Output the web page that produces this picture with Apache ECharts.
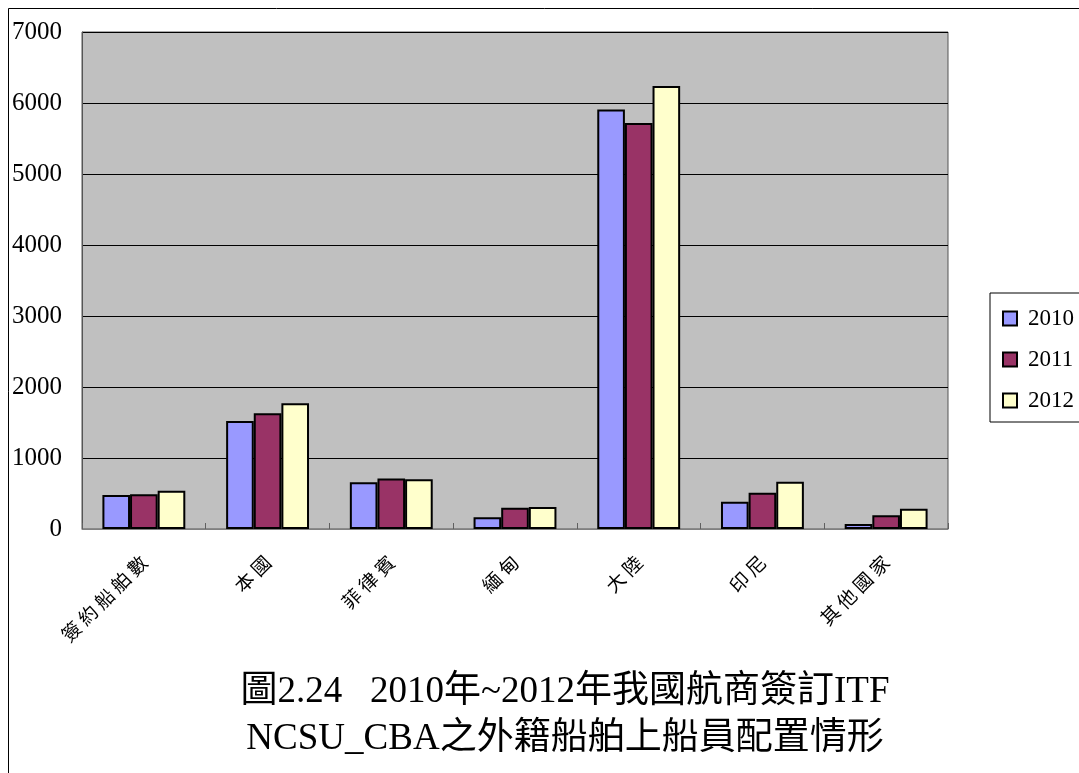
<!DOCTYPE html>
<html>
<head>
<meta charset="utf-8">
<script src="https://cdn.jsdelivr.net/npm/echarts@6/dist/echarts.min.js"></script>
<style>
  html, body { margin: 0; padding: 0; background: #fff; }
  #chart { width: 1079px; height: 773px; }
</style>
</head>
<body>
<div id="chart"></div>
<script>
// 類別與數據
const categories = ['簽約船舶數', '本國', '菲律賓', '緬甸', '大陸', '印尼', '其他國家'];
const years = ['2010', '2011', '2012'];
const data2010 = [480, 1520, 660, 165, 5910, 385, 70];
const data2011 = [490, 1630, 710, 300, 5720, 510, 195];
const data2012 = [540, 1770, 700, 310, 6240, 665, 285];
const yTicks = [0, 1000, 2000, 3000, 4000, 5000, 6000, 7000];

const serif = '"Liberation Serif", "Noto Sans CJK TC", serif';
const colors = ['#9999FF', '#993366', '#FFFFCC'];

const chart = echarts.init(document.getElementById('chart'));
const option = {
  animation: false,
  backgroundColor: '#fff',
  textStyle: { fontFamily: serif },
  title: {
    text: '圖2.24   2010年~2012年我國航商簽訂ITF\nNCSU_CBA之外籍船舶上船員配置情形',
    left: 560,
    top: 664,
    textAlign: 'center',
    textStyle: {
      fontFamily: serif,
      fontSize: 37,
      fontWeight: 'normal',
      color: '#000',
      lineHeight: 47
    }
  },
  legend: {
    orient: 'vertical',
    left: 990,
    top: 293,
    padding: [14, 30, 10, 12],
    itemGap: 18,
    itemWidth: 14,
    itemHeight: 14,
    icon: 'rect',
    borderColor: '#000',
    borderWidth: 1,
    data: years,
    textStyle: { fontFamily: serif, fontSize: 23, color: '#000', padding: [0, 0, 0, 6] }
  },
  grid: {
    left: 82,
    top: 32,
    right: 131,
    bottom: 244,
    show: true,
    backgroundColor: '#C0C0C0',
    borderColor: '#555',
    borderWidth: 1
  },
  xAxis: {
    type: 'category',
    data: categories,
    axisLine: { lineStyle: { color: '#808080', width: 1 } },
    axisTick: { show: true, inside: true, length: 6, lineStyle: { color: '#606060' } },
    axisLabel: {
      rotate: 45,
      margin: 30,
      fontFamily: '"Noto Sans CJK TC", sans-serif',
      fontSize: 19,
      color: '#000',
      // 字距較寬
      formatter: v => v.split('').join(' ')
    }
  },
  yAxis: {
    type: 'value',
    min: 0,
    max: yTicks[yTicks.length - 1],
    interval: yTicks[1] - yTicks[0],
    axisLine: { show: true, lineStyle: { color: '#555' } },
    axisTick: { show: false },
    axisLabel: { fontFamily: serif, fontSize: 25, color: '#000', margin: 20, formatter: v => String(v) },
    splitLine: { show: true, lineStyle: { color: '#000', width: 1 } }
  },
  graphic: [{
    type: 'rect',
    shape: { x: 8.5, y: 8.5, width: 1200, height: 900 },
    style: { fill: null, stroke: '#000', lineWidth: 1 },
    z: 100
  }],
  series: [data2010, data2011, data2012].map((d, i) => ({
    name: years[i],
    type: 'bar',
    data: d,
    barGap: '0%',
    barCategoryGap: '33%',
    itemStyle: { color: colors[i], borderColor: '#000', borderWidth: 2 }
  }))
};
chart.setOption(option);
</script>
</body>
</html>
